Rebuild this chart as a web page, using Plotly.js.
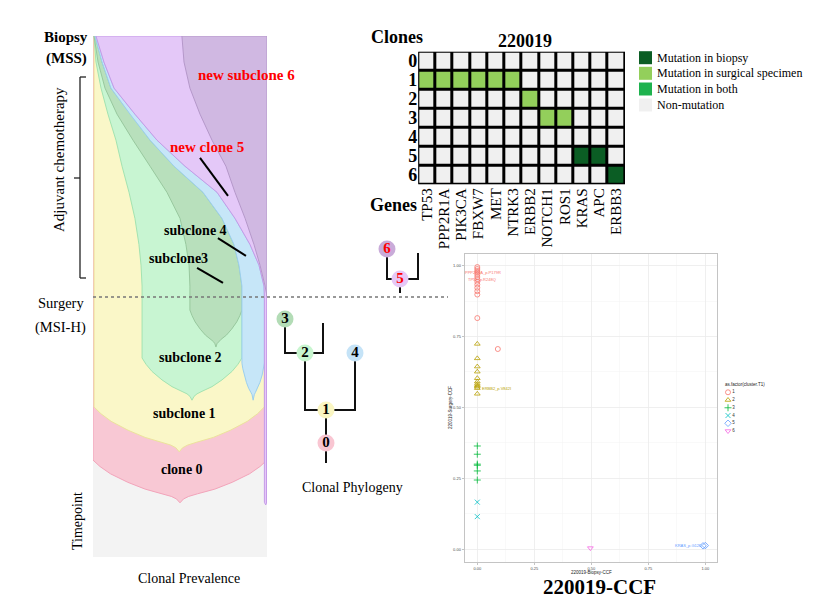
<!DOCTYPE html>
<html><head><meta charset="utf-8">
<script src="https://cdn.plot.ly/plotly-3.0.1.min.js"></script>
<style>html,body{margin:0;padding:0;background:#fff}#chart{width:814px;height:609px}</style>
</head><body><div id="chart"></div>
<script>
// ---------------- Fish plot (clonal prevalence over time) ----------------
const fishTime   = [50, 52, 56, 60, 65, 70, 75, 80, 85, 90, 95, 100];
const clone2Left = [0.282,0.282,0.276,0.264,0.241,0.207,0.167,0.132,0.086,0.046,0.017,0.006];
const clone3Left = [0.557,0.557,0.552,0.534,0.500,0.425,0.328,0.230,0.138,0.069,0.029,0.006];
const clone4Left = [0.856,0.856,0.839,0.810,0.741,0.632,0.466,0.328,0.213,0.103,0.052,0.011];
const clone5Left = [0.985,0.983,0.954,0.902,0.816,0.713,0.529,0.368,0.241,0.121,0.063,0.017];
const clone6Left = [1.000,0.989,0.960,0.925,0.874,0.816,0.764,0.684,0.615,0.557,0.523,0.511];
const cloneLabels   = ['clone 0','subclone 1','subclone 2','subclone3','subclone 4','new clone 5','new subclone 6'];
const cloneSideTime = [18.6, 28.8, 38.2, 47.4, 37.2, 10.5, null];
const cloneTipTime  = [10.4, 20.2, 30.1, 40.3, 30.1, 10.0, null];
// shape of the emergence cusp (fraction of half-width from tip, fraction of depth)
const cuspU = [1, 0.92, 0.8, 0.6, 0.4, 0.2, 0.1, 0.04, 0];
const cuspD = [0, 0.15, 0.32, 0.52, 0.68, 0.79, 0.85, 0.91, 1];

// ---------------- Mutation heatmap ----------------
const geneNames = ['TP53','PPP2R1A','PIK3CA','FBXW7','MET','NTRK3','ERBB2','NOTCH1','ROS1','KRAS','APC','ERBB3'];
const cloneIds  = ['0','1','2','3','4','5','6'];
// 0 non-mutation, 1 biopsy, 2 surgical specimen, 3 both
const mutationMatrix = [
  [0,0,0,0,0,0,0,0,0,0,0,0],
  [2,2,2,2,2,2,0,0,0,0,0,0],
  [0,0,0,0,0,0,2,0,0,0,0,0],
  [0,0,0,0,0,0,0,2,2,0,0,0],
  [0,0,0,0,0,0,0,0,0,0,0,0],
  [0,0,0,0,0,0,0,0,0,1,1,0],
  [0,0,0,0,0,0,0,0,0,0,0,1]
];
const mutationTypes  = ['Non-mutation','Mutation in biopsy','Mutation in surgical specimen','Mutation in both'];
const mutationColors = ['#f0f0f0','#0b5d24','#93cf5b','#1eb24e'];
const legendOrder = [1, 2, 3, 0];

// ---------------- Clonal phylogeny ----------------
const treeNodeIds = ['0','1','2','3','4','5','6'];
const treeNodeX   = [5.6, 5.6, 3.5, 1.5, 8.5, 13.0, 11.7];
const treeNodeY   = [2.7, 6.0, 11.7, 15.1, 11.7, 19.1, 22.1];
const treeParent  = ['', '0', '1', '2', '1', '', '5'];
const treeStemEndY = [0.7, null, null, null, null, 17.7, null];
const treeStubParent = ['2', '5'];
const treeStubX = [5.3, 14.8];
const treeStubY = [14.7, 21.7];
const treeNodeColors = ['#f9c6d2','#faf6c2','#c8f5cf','#b3dcb6','#c5e3f7','#e6c8f7','#c9abd9'];
const treeTextColors = ['#000','#000','#000','#000','#000','#ff0000','#ff0000'];

// ---------------- CCF scatter ----------------
const ccfClusters = ['1','2','3','4','5','6'];
const ccfBiopsy = [
  [0,0,0,0,0,0,0,0,0,0,0,0,0,0.09],
  [0,0,0,0,0,0,0,0,0,0,0],
  [0,0,0,0,0,0],
  [0,0],
  [0.99,1.0],
  [0.496]
];
const ccfSurgery = [
  [0.995,0.988,0.981,0.975,0.968,0.960,0.952,0.943,0.933,0.922,0.910,0.898,0.815,0.706],
  [0.724,0.673,0.644,0.626,0.603,0.591,0.583,0.577,0.573,0.568,0.548],
  [0.364,0.335,0.300,0.296,0.276,0.244],
  [0.166,0.115],
  [0.012,0.013],
  [0.004]
];
const ccfColors  = ['#F8766D','#B79F00','#00BA38','#00BFC4','#619CFF','#F564E3'];
const ccfSymbols = ['circle-open','triangle-up-open','cross-thin-open','x-thin-open','diamond-open','triangle-down-open'];
const ccfLabelText = ['PPP2R1A_p.P179R','TP53_p.R248Q','ERBB2_p.V842I','KRAS_p.G12D'];
const ccfLabelX = [0.027, 0.022, 0.082, 0.928];
const ccfLabelY = [0.977, 0.952, 0.565, 0.013];
const ccfLabelCluster = [0, 0, 1, 4];

// ---------------- helpers ----------------
const W = 814, H = 609;
const px = x => x / W;
const py = y => 1 - y / H;
const serif = 'Liberation Serif';
const fishFill = ['#f8c8d4','#faf7c8','#c8f5d2','#b8e0bc','#c6e6f8','#e4c8f8','#d0b8e2'];
const fishLine = ['#f2a4ba','#ece39c','#a3e3b1','#98c89e','#9ccfee','#c59ae8','#b598ca'];

function constArr(v){ return fishTime.map(() => v); }
function fishPolygon(leftTop, rightTop, sideT, tipT){
  const xs = [], ys = [];
  const l0 = leftTop[0], r0 = rightTop[0];
  const half = (r0 - l0) / 2, mid = (l0 + r0) / 2;
  if (sideT !== null){
    for (let i = cuspU.length - 1; i >= 0; i--){ xs.push(mid - half * cuspU[i]); ys.push(sideT - (sideT - tipT) * cuspD[i]); }
  }
  for (let i = 0; i < fishTime.length; i++){ xs.push(leftTop[i]); ys.push(fishTime[i]); }
  for (let i = fishTime.length - 1; i >= 0; i--){ xs.push(rightTop[i]); ys.push(fishTime[i]); }
  if (sideT !== null){
    for (let i = 0; i < cuspU.length; i++){ xs.push(mid + half * cuspU[i]); ys.push(sideT - (sideT - tipT) * cuspD[i]); }
  }
  xs.push(xs[0]); ys.push(ys[0]);
  return {xs, ys};
}
const cloneBounds = [
  [constArr(0), constArr(1)],
  [constArr(0.006), constArr(0.985)],
  [clone2Left, clone4Left],
  [clone3Left, clone4Left],
  [clone4Left, clone5Left],
  [clone5Left, constArr(1)],
  [clone6Left, constArr(1)]
];

const traces = [];
cloneBounds.forEach((b, i) => {
  const poly = fishPolygon(b[0], b[1], cloneSideTime[i], cloneTipTime[i]);
  traces.push({type:'scatter', mode:'lines', x:poly.xs, y:poly.ys, fill:'toself',
    fillcolor: fishFill[i], line:{color: fishLine[i], width:1}, xaxis:'x', yaxis:'y',
    hoverinfo:'skip', showlegend:false, name: cloneLabels[i]});
});

// heatmap
traces.push({type:'heatmap', z: mutationMatrix, x: geneNames.map((g,i)=>i), y: cloneIds.map((c,i)=>i),
  xaxis:'x2', yaxis:'y2', zmin:-0.5, zmax:3.5, showscale:false, xgap:3, ygap:3, hoverinfo:'skip',
  colorscale:[[0,mutationColors[0]],[0.25,mutationColors[0]],[0.25,mutationColors[1]],[0.5,mutationColors[1]],
              [0.5,mutationColors[2]],[0.75,mutationColors[2]],[0.75,mutationColors[3]],[1,mutationColors[3]]]});

// tree edges
const ex = [], ey = [];
treeNodeIds.forEach((id, i) => {
  const p = treeParent[i];
  if (p !== ''){
    const j = treeNodeIds.indexOf(p);
    ex.push(treeNodeX[j], treeNodeX[i], treeNodeX[i], null);
    ey.push(treeNodeY[j], treeNodeY[j], treeNodeY[i], null);
  }
  if (treeStemEndY[i] !== null){
    ex.push(treeNodeX[i], treeNodeX[i], null);
    ey.push(treeNodeY[i], treeStemEndY[i], null);
  }
});
treeStubParent.forEach((p, k) => {
  const j = treeNodeIds.indexOf(p);
  ex.push(treeNodeX[j], treeStubX[k], treeStubX[k], null);
  ey.push(treeNodeY[j], treeNodeY[j], treeStubY[k], null);
});
traces.push({type:'scatter', mode:'lines', x:ex, y:ey, xaxis:'x3', yaxis:'y3',
  line:{color:'#111', width:2}, hoverinfo:'skip', showlegend:false});
traces.push({type:'scatter', mode:'markers+text', x:treeNodeX, y:treeNodeY, text:treeNodeIds,
  textposition:'middle center', xaxis:'x3', yaxis:'y3',
  textfont:{family:serif, size:15, color:treeTextColors, weight:'bold'},
  marker:{size:17, color:treeNodeColors, line:{width:0}}, hoverinfo:'skip', showlegend:false});

// CCF scatter
ccfClusters.forEach((c, i) => {
  traces.push({type:'scatter', mode:'markers', x:ccfBiopsy[i], y:ccfSurgery[i], xaxis:'x4', yaxis:'y4',
    marker:{symbol:ccfSymbols[i], size:5, color:ccfColors[i], line:{width:0.8, color:ccfColors[i]}},
    name:c, showlegend:false, hoverinfo:'skip', cliponaxis:false});
});
// CCF legend keys
traces.push({type:'scatter', mode:'markers+text', x:ccfClusters.map(()=>8), y:ccfClusters.map((c,i)=>i+1),
  text:ccfClusters, textposition:'middle right', textfont:{size:4.5, color:'#333', family:'Liberation Sans'},
  xaxis:'x5', yaxis:'y5', hoverinfo:'skip', showlegend:false,
  marker:{symbol:ccfSymbols, size:5, color:ccfColors, line:{width:0.8, color:ccfColors}}});

// ---------------- shapes ----------------
const shapes = [
  {type:'rect', xref:'x', yref:'y', x0:0, x1:1, y0:0, y1:100, fillcolor:'#f3f3f3', line:{width:0}, layer:'below'},
  {type:'rect', xref:'x2', yref:'y2', x0:-0.5, x1:11.5, y0:-0.5, y1:6.5, fillcolor:'#000', line:{color:'#000', width:2}, layer:'below'},
  {type:'line', xref:'paper', yref:'paper', x0:px(93), x1:px(448), y0:py(297), y1:py(297), line:{color:'#777', width:1.5, dash:'dot'}},
  {type:'line', xref:'paper', yref:'paper', x0:px(80), x1:px(80), y0:py(77), y1:py(278), line:{color:'#222', width:1.3}},
  {type:'line', xref:'paper', yref:'paper', x0:px(80), x1:px(86), y0:py(77), y1:py(77), line:{color:'#222', width:1.3}},
  {type:'line', xref:'paper', yref:'paper', x0:px(80), x1:px(86), y0:py(278), y1:py(278), line:{color:'#222', width:1.3}},
  {type:'line', xref:'paper', yref:'paper', x0:px(74), x1:px(80), y0:py(178), y1:py(178), line:{color:'#222', width:1.3}},
  {type:'line', xref:'x', yref:'y', x0:0.615, y0:76.6, x1:0.776, y1:69.3, line:{color:'#000', width:2}},
  {type:'line', xref:'x', yref:'y', x0:0.718, y0:61.2, x1:0.879, y1:57.8, line:{color:'#000', width:2}},
  {type:'line', xref:'x', yref:'y', x0:0.598, y0:55.5, x1:0.747, y1:52.6, line:{color:'#000', width:2}}
];
const legY = [57.7, 73.3, 89, 105];
legendOrder.forEach((k, i) => {
  shapes.push({type:'rect', xref:'paper', yref:'paper', x0:px(639), x1:px(652), y0:py(legY[i]+6.5), y1:py(legY[i]-6.5),
    fillcolor:mutationColors[k], line:{width:0}});
});

// ---------------- annotations ----------------
const ann = [];
function A(o){ ann.push(Object.assign({showarrow:false, xref:'paper', yref:'paper', xanchor:'center', yanchor:'middle'}, o)); }
const fishLabelP = [0.514, 0.523, 0.563, 0.494, 0.589, 0.655, 0.882];
const fishLabelT = [16.7, 27.6, 38.3, 57.2, 62.6, 78.7, 92.5];
cloneLabels.forEach((t, i) => {
  ann.push({text:'<b>'+t+'</b>', x:fishLabelP[i], y:fishLabelT[i], xref:'x', yref:'y', showarrow:false,
    xanchor:'center', yanchor:'middle',
    font:{family:serif, size: i >= 5 ? 15 : 14, color: i >= 5 ? '#ff0000' : '#000'}});
});
A({text:'<b>Biopsy</b>', x:px(66), y:py(37), font:{family:serif, size:15, color:'#000'}});
A({text:'<b>(MSS)</b>', x:px(66), y:py(58), font:{family:serif, size:15, color:'#000'}});
A({text:'Surgery', x:px(61), y:py(303), font:{family:serif, size:14.5, color:'#000'}});
A({text:'(MSI-H)', x:px(61), y:py(327), font:{family:serif, size:14.5, color:'#000'}});
A({text:'Adjuvant chemotherapy', x:px(59), y:py(160), textangle:-90, font:{family:serif, size:15, color:'#000'}});
A({text:'Timepoint', x:px(77), y:py(521), textangle:-90, font:{family:serif, size:14, color:'#000'}});
A({text:'Clonal Prevalence', x:px(189), y:py(578), font:{family:serif, size:14, color:'#000'}});
A({text:'Clonal Phylogeny', x:px(352), y:py(487), font:{family:serif, size:14, color:'#000'}});
A({text:'<b>Clones</b>', x:px(397), y:py(37), font:{family:serif, size:18, color:'#000'}});
A({text:'<b>220019</b>', x:px(525), y:py(41), font:{family:serif, size:18, color:'#000'}});
A({text:'<b>Genes</b>', x:px(393), y:py(205), font:{family:serif, size:18, color:'#000'}});
legendOrder.forEach((k, i) => {
  A({text:mutationTypes[k], x:px(655), y:py(legY[i]), xanchor:'left', font:{family:serif, size:12, color:'#000'}});
});
A({text:'<b>220019-CCF</b>', x:px(599), y:py(587), font:{family:serif, size:21, color:'#000'}});
A({text:'220019-Biopsy-CCF', x:px(591), y:py(572), font:{family:'Liberation Sans', size:4.5, color:'#222'}});
A({text:'220019-Surgery-CCF', x:px(450), y:py(408), textangle:-90, font:{family:'Liberation Sans', size:4.5, color:'#222'}});
A({text:'as.factor(cluster.T1)', x:px(723), y:py(384), xanchor:'left', font:{family:'Liberation Sans', size:4.5, color:'#222'}});
ccfLabelText.forEach((t, i) => {
  ann.push({text:t, x:ccfLabelX[i], y:ccfLabelY[i], xref:'x4', yref:'y4', showarrow:false, xanchor:'center', yanchor:'middle',
    font:{family:'Liberation Sans', size:4, color:ccfColors[ccfLabelCluster[i]]}});
});

const hidden = {visible:false, fixedrange:true};
const ccfAxisCommon = {showline:true, mirror:true, linecolor:'#c4c4c4', linewidth:1.3, ticks:'outside', ticklen:2,
  tickcolor:'#c4c4c4', tickfont:{size:4, color:'#4d4d4d', family:'Liberation Sans'}, showgrid:true, gridcolor:'#ebebeb',
  gridwidth:0.8, zeroline:false, tickmode:'linear', tick0:0, dtick:0.25, tickformat:'.2f',
  minor:{dtick:0.125, showgrid:true, gridcolor:'#f4f4f4', gridwidth:0.5}, fixedrange:true};

const layout = {
  width:W, height:H, margin:{l:0,r:0,t:0,b:0}, paper_bgcolor:'#fff', plot_bgcolor:'rgba(0,0,0,0)',
  hovermode:false, showlegend:false,
  xaxis: Object.assign({domain:[px(93), px(267)], range:[0,1], anchor:'y'}, hidden),
  yaxis: Object.assign({domain:[py(557), py(36)], range:[0,100], anchor:'x'}, hidden),
  xaxis2:{domain:[px(418.3), px(625)], range:[-0.5,11.5], anchor:'y2', tickmode:'array',
    tickvals:geneNames.map((g,i)=>i), ticktext:geneNames, tickangle:-90, showgrid:false, zeroline:false,
    showline:false, ticks:'', tickfont:{family:serif, size:15, color:'#000'}, fixedrange:true},
  yaxis2:{domain:[py(184.3), py(51.7)], range:[6.5,-0.5], anchor:'x2', tickmode:'array',
    tickvals:cloneIds.map((c,i)=>i), ticktext:cloneIds, showgrid:false, zeroline:false, showline:false, ticks:'',
    tickfont:{family:serif, size:18, color:'#000', weight:'bold'}, fixedrange:true},
  xaxis3: Object.assign({domain:[px(270), px(450)], range:[0,18], anchor:'y3'}, hidden),
  yaxis3: Object.assign({domain:[py(470), py(240)], range:[0,23], anchor:'x3'}, hidden),
  xaxis4: Object.assign({domain:[px(465), px(716.7)], range:[-0.054,1.05], anchor:'y4'}, ccfAxisCommon),
  yaxis4: Object.assign({domain:[py(561.7), py(254)], range:[-0.044,1.041], anchor:'x4'}, ccfAxisCommon),
  xaxis5: Object.assign({domain:[px(720), px(780)], range:[0,60], anchor:'y5'}, hidden),
  yaxis5: Object.assign({domain:[py(434.9), py(388.4)], range:[6.5,0.5], anchor:'x5'}, hidden),
  shapes: shapes,
  annotations: ann
};
Plotly.newPlot('chart', traces, layout, {staticPlot:true, displayModeBar:false});
</script></body></html>
